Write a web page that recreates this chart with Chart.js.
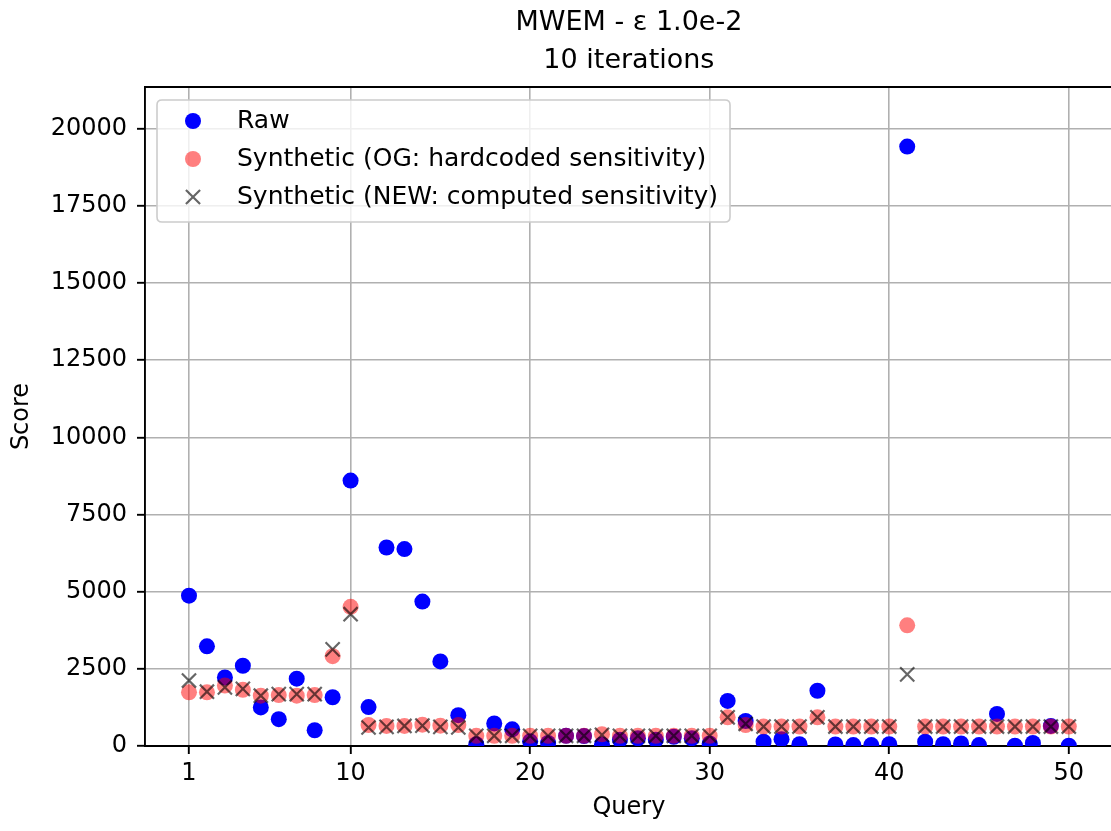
<!DOCTYPE html>
<html><head><meta charset="utf-8">
<script src="https://cdn.jsdelivr.net/npm/chart.js@4"></script>
<style>
html,body{margin:0;padding:0;overflow:hidden;background:#fff}
#wrap{width:1111px;height:831px;overflow:hidden;position:relative;background:#fff}
#c{position:absolute;left:0;top:0}
</style></head>
<body><div id="wrap"><canvas id="c" width="1125" height="831"></canvas></div>
<script>
const titleLines = ['MWEM - ε 1.0e-2', '10 iterations'];
const xLabel = 'Query';
const yLabel = 'Score';
const seriesLabels = ['Raw', 'Synthetic (OG: hardcoded sensitivity)', 'Synthetic (NEW: computed sensitivity)'];

const queries = [1,2,3,4,5,6,7,8,9,10,11,12,13,14,15,16,17,18,19,20,21,22,23,24,25,26,27,28,29,30,31,32,33,34,35,36,37,38,39,40,41,42,43,44,45,46,47,48,49,50];

const raw = [4870,3230,2220,2600,1250,870,2180,510,1580,8600,
             1260,6430,6380,4680,2740,1000,60,730,540,150,
             100,330,320,50,200,250,200,300,250,80,
             1460,810,140,220,60,1790,50,30,30,60,
             19420,140,60,80,30,1040,10,100,650,10];

const synthOG = [1740,1740,1960,1820,1630,1650,1630,1650,2910,4510,
                 680,650,650,690,660,680,330,330,330,330,
                 330,330,330,380,330,330,330,330,330,330,
                 930,680,630,630,630,930,630,630,630,630,
                 3910,630,630,630,630,630,630,630,630,630];

const synthNEW = [2120,1760,1900,1850,1630,1680,1680,1680,3130,4270,
                  600,620,650,660,620,600,330,330,330,330,
                  330,330,330,360,330,330,330,330,330,330,
                  930,720,630,630,630,930,630,630,630,630,
                  2320,630,630,630,630,630,630,630,630,630];

const xTicks = [1,10,20,30,40,50];
const yTicks = [0,2500,5000,7500,10000,12500,15000,17500,20000];

const FAM = "'DejaVu Sans', sans-serif";
const toPts = arr => queries.map((q,i)=>({x:q, y:arr[i]}));

const styles = [
  {pointStyle:'circle', pointRadius:8, backgroundColor:'#0000ff', borderColor:'#0000ff', borderWidth:0},
  {pointStyle:'circle', pointRadius:8, backgroundColor:'rgba(255,0,0,0.5)', borderColor:'rgba(255,0,0,0.5)', borderWidth:0},
  {pointStyle:'crossRot', pointRadius:10, backgroundColor:'rgba(0,0,0,0)', borderColor:'rgba(0,0,0,0.6)', borderWidth:2.2}
];

const decor = {
  id:'decor',
  afterDraw(chart){
    const {ctx, chartArea:a} = chart;
    ctx.save();
    ctx.strokeStyle='#000'; ctx.lineWidth=1.9;
    ctx.beginPath(); ctx.moveTo(a.left-0.95, a.top); ctx.lineTo(a.right+1, a.top); ctx.stroke();
    ctx.fillStyle='#000'; ctx.textAlign='center'; ctx.textBaseline='middle';
    const cx=(a.left+a.right)/2;
    ctx.font = '27px ' + FAM;
    ctx.fillText(titleLines[0], cx, 23);
    ctx.fillText(titleLines[1], cx, 61);
    ctx.font = '24px ' + FAM;
    ctx.fillText(xLabel, cx, 808);
    ctx.save(); ctx.translate(22, (a.top+a.bottom)/2); ctx.rotate(-Math.PI/2); ctx.fillText(yLabel,0,0); ctx.restore();
    // legend
    ctx.font = '25px ' + FAM;
    let maxW = 0; seriesLabels.forEach(l=>{maxW=Math.max(maxW, ctx.measureText(l).width);});
    const bx=157, by=100, bw=(237+maxW+12)-bx, bh=122, r=5;
    ctx.beginPath();
    ctx.moveTo(bx+r,by); ctx.lineTo(bx+bw-r,by); ctx.quadraticCurveTo(bx+bw,by,bx+bw,by+r);
    ctx.lineTo(bx+bw,by+bh-r); ctx.quadraticCurveTo(bx+bw,by+bh,bx+bw-r,by+bh);
    ctx.lineTo(bx+r,by+bh); ctx.quadraticCurveTo(bx,by+bh,bx,by+bh-r);
    ctx.lineTo(bx,by+r); ctx.quadraticCurveTo(bx,by,bx+r,by); ctx.closePath();
    ctx.fillStyle='rgba(255,255,255,0.8)'; ctx.fill();
    ctx.strokeStyle='#cccccc'; ctx.lineWidth=1.6; ctx.stroke();
    const rows=[121,159,197];
    seriesLabels.forEach((l,i)=>{
      const s=styles[i];
      ctx.save();
      ctx.fillStyle=s.backgroundColor; ctx.strokeStyle=s.borderColor; ctx.lineWidth=s.borderWidth||0;
      Chart.helpers.drawPoint(ctx, {pointStyle:s.pointStyle, radius:s.pointRadius, rotation:0, borderWidth:s.borderWidth}, 193, rows[i]);
      ctx.restore();
      ctx.fillStyle='#000'; ctx.textAlign='left'; ctx.textBaseline='middle';
      ctx.fillText(l, 237, rows[i]);
    });
    ctx.restore();
  }
};

const tickFont = {family:FAM, size:24};
new Chart(document.getElementById('c'), {
  type:'scatter',
  data:{datasets:[
    Object.assign({label:seriesLabels[0], data:toPts(raw), order:3, clip:0}, styles[0]),
    Object.assign({label:seriesLabels[1], data:toPts(synthOG), order:2, clip:0}, styles[1]),
    Object.assign({label:seriesLabels[2], data:toPts(synthNEW), order:1, clip:0}, styles[2])
  ]},
  options:{
    responsive:false, animation:false, events:[],
    layout:{padding:{left:0, top:87, right:6, bottom:0}},
    plugins:{legend:{display:false}, title:{display:false}, tooltip:{enabled:false}},
    scales:{
      x:{type:'linear', min:-1.45, max:52.45,
         afterFit(s){ s.height = 85; },
         afterBuildTicks(s){ s.ticks = xTicks.map(v=>({value:v})); },
         ticks:{font:tickFont, color:'#000', padding:5, maxRotation:0, autoSkip:false, callback:v=>String(v)},
         grid:{color:'#b0b0b0', lineWidth:1.6, tickColor:'#000', tickLength:8, tickWidth:1.9},
         border:{color:'#000', width:1.9}},
      y:{type:'linear', min:0, max:21350,
         afterFit(s){ s.width = 145; },
         afterBuildTicks(s){ s.ticks = yTicks.map(v=>({value:v})); },
         ticks:{font:tickFont, color:'#000', padding:10, autoSkip:false, callback:v=>String(v)},
         grid:{color:'#b0b0b0', lineWidth:1.6, tickColor:'#000', tickLength:8, tickWidth:1.9},
         border:{color:'#000', width:1.9}}
    }
  },
  plugins:[decor]
});
</script>
</body></html>
